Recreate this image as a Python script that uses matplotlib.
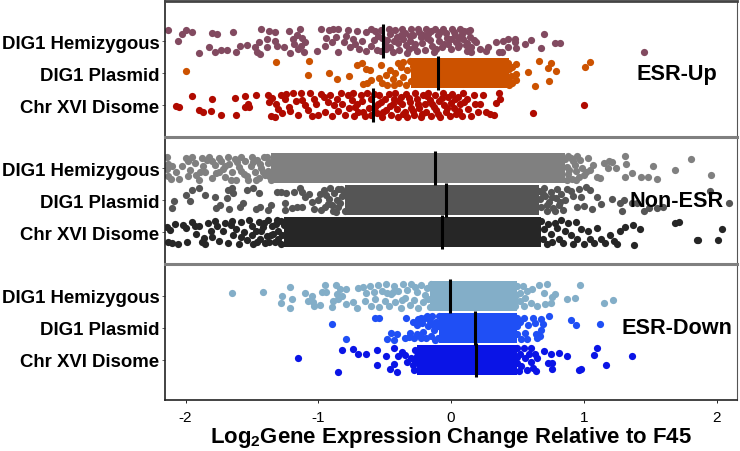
import matplotlib
matplotlib.use('Agg')
import matplotlib.pyplot as plt

plt.rcParams['font.family'] = ['Liberation Sans', 'DejaVu Sans']
plt.rcParams['mathtext.default'] = 'regular'

row_labels = ['DIG1 Hemizygous', 'DIG1 Plasmid', 'Chr XVI Disome']
panel_names = ['ESR-Up', 'Non-ESR', 'ESR-Down']

# each point is (log2 change, jitter within the row)
up_hemi = [(-2.13,.35),(-2.06,0),(-2.03,.22),(-2.0,.33),(-1.95,.29),(-1.90,-.37),(-1.82,-.19),(-1.80,.25),(-1.76,.21),
    (-1.78,-.33),(-1.73,-.27),(-1.69,-.27),(-1.64,.27),(-1.62,-.33),(-1.59,-.17),(-1.54,-.12),(-1.48,-.2),(-1.46,-.33),
    (-1.44,-.4),(-1.45,-.02),(-1.39,.06),(-1.43,.39),(-1.37,.3),(-1.33,.27),(-1.33,.01),(-1.39,-.2),(-1.31,-.15),(-1.26,-.18),
    (-1.22,.32),(-1.21,-.37),(-1.19,.06),(-1.18,-.09),(-1.14,.37),(-1.12,.11),(-1.10,-.04),(-1.15,-.25),(-1.11,-.35),(-1.16,.2),
    (-1.13,-.15),(-1.01,-.32),(-.98,.39),(-.92,.35),(-.89,.37),(-.94,.11),(-.9,-.04),(-.95,-.15),(-.85,.37),(-.85,-.35),(-.81,-.04),
    (-.79,.17),(-.76,-.2),(-.71,.32),(-.74,.06),(-.69,-.25),(-.64,.27),(-.67,.01),(-.64,-.3),(-.87,.12),(-.78,.35),(-.72,-.1),
    (-.6,.38),(-.57,.3),(-.55,.15),(-.58,.02),(-.6,-.15),(-.56,-.28),(-.53,.36),(-.52,.1),(-.5,-.1),(-.53,-.3),(-.47,.38),(-.46,.22),
    (-.48,.03),(-.46,-.2),(-.44,-.33),(-.42,.33),(-.41,.12),(-.4,-.05),(-.39,-.27),(-.37,.39),(-.35,.25),(-.36,.05),(-.34,-.12),(-.33,-.36),
    (-.3,.37),(-.29,.2),(-.31,0),(-.28,-.18),(-.26,-.3),(-.25,.38),(-.23,.12),(-.22,-.06),(-.2,-.27),(-.19,.37),(-.17,.23),(-.16,.04),
    (-.14,-.15),(-.13,-.33),(-.12,.38),(-.1,.2),(-.09,.0),(-.07,-.2),(-.06,.39),(-.04,.25),(-.03,.1),(-.02,-.08),(0,-.25),(.01,.37),
    (.03,.18),(.04,-.03),(.05,-.2),(.07,.38),(.08,.22),(.09,.06),(.11,-.12),(.12,-.3),(.13,.3),(.14,.12),(.15,-.2),(.12,-.06),
    (.19,-.04),(.22,-.25),(.26,-.3),(.28,-.2),(.34,-.04),(.36,-.35),(.38,-.33),(.39,.01),(.43,.06),(.43,-.2),(.48,.06),(.48,-.04),
    (.49,-.23),(.56,-.09),(.6,.04),(.7,.22),(.68,-.22),(.78,-.06),(.82,-.06),(1.45,-.35),(.17,.02),(.15,-.34),(.14,.36),
    (-.38,.18),(-.31,.15),(-.27,-.08),(-.24,.28),(-.18,.1),(-.11,-.25),(-.08,.28),(-.05,-.1),(.0,.05),(.02,.28),(.06,.1),(.1,.32),
    (-.43,.0),(-.49,-.25),(-.32,-.25),(-.15,.3),(-.21,.18),(.06,-.12)]
up_plas = [(-2.0,.08),(-1.32,.35),(-1.07,.39),(-1.08,-.07),(-.92,.01),(-.86,-.17),(-.77,-.1),(-.71,.26),(-.67,.31),(-.64,.12),
    (-.66,-.34),(-.63,-.32),(-.6,-.21),(-.61,.1),(-.53,.26),(-.54,-.15),(-.52,-.3),(-.49,-.05),(-.48,-.36),(-.46,.1),(-.44,-.2),
    (-.43,-.38),(-.42,.0),(-.4,.33),(-.39,-.3),(-.38,.2),(-.36,.36),(-.36,-.12),(-.34,-.37),(-.33,.1),(-.31,.38),(-.3,-.25),(-.29,.22),
    (.43,.3),(.44,.12),(.45,-.1),(.46,.2),(.43,-.22),(.46,-.3),(.44,-.36),
    (.49,.28),(.49,-.03),(.49,-.22),(.58,.02),(.63,-.4),(.66,.39),(.75,.31),(.73,.15),(.79,.08),(.74,-.25),(1.05,.36),(1.01,.19)]
up_dis = [(-2.05,-.05),(-2.07,-.04),(-1.95,.27),(-1.9,-.16),(-1.87,-.21),(-1.81,-.17),(-1.8,.19),(-1.73,-.3),(-1.63,.22),(-1.62,-.3),
    (-1.55,.29),(-1.55,-.07),(-1.53,.03),(-1.52,-.07),(-1.47,.31),(-1.38,.3),(-1.37,.1),(-1.36,-.35),(-1.35,.22),(-1.33,-.36),(-1.32,.05),
    (-1.3,-.12),(-1.28,.3),(-1.27,-.25),(-1.25,.18),(-1.24,.36),(-1.22,-.05),(-1.21,-.18),(-1.19,.38),(-1.17,.12),(-1.15,-.3),(-1.13,.38),
    (-1.12,.15),(-1.1,.0),(-1.08,-.15),(-1.06,.37),(-1.05,-.33),(-1.03,.2),(-1.02,.05),(-1.0,-.3),(-.98,.36),(-.96,.25),(-.95,-.2),(-.93,.1),
    (-.91,.33),(-.9,-.33),(-.88,.0),(-.86,.2),(-.85,-.18),(-.83,.37),(-.82,.05),(-.8,-.32),(-.78,.3),(-.77,-.1),(-.75,.15),(-.74,.37),(-.73,-.33),
    (-.71,.05),(-.7,-.2),(-.68,.3),(-.67,.12),(-.65,-.33),(-.63,.38),(-.62,-.1),(-.6,.18),(-.6,-.3),(-.58,.36),(-.57,-.05),(-.56,-.25),(-.54,.3),
    (-.53,.1),(-.52,-.36),(-.5,.2),(-.49,-.15),(-.47,.34),(-.46,-.02),(-.45,-.3),(-.43,.18),(-.42,.38),(-.41,-.12),(-.4,-.38),(-.38,.25),(-.37,.02),
    (-.35,-.2),(-.34,.36),(-.33,-.36),(-.31,.1),(-.3,-.08),(-.28,-.3),(-.27,.37),(-.26,.2),(-.24,-.1),(-.23,-.36),(-.21,.3),(-.2,.05),(-.19,-.22),
    (-.17,.38),(-.16,.15),(-.15,-.35),(-.13,-.05),(-.12,.3),(-.1,-.28),(-.09,.12),(-.08,-.38),(-.06,.38),(-.05,.0),(-.04,-.2),(-.02,.26),(-.01,-.34),
    (.0,.08),(.01,.36),(.02,-.1),(.04,-.28),(.05,.25),(.07,.02),(.08,-.35),(.09,.38),(.12,.2),(.13,-.12),(.15,-.34),(.17,.3),(.18,.05),(.2,-.2),
    (.22,.03),(.26,-.21),(.29,-.28),(.32,-.32),(.24,.3),(.36,.37),(.37,.19),(.34,.08),(.62,-.25),(1.0,0),
    (-.72,-.05),(-.66,-.2),(-.55,.05),(-.51,-.22),(-.44,.05),(-.39,.12),(-.36,-.28),(-.32,.22),(-.29,-.18),(-.25,.05),(-.22,-.28),(-.18,.28),
    (-.14,.05),(-.11,-.15),(-.07,.22),(-.03,-.1),(.03,.18),(.06,-.18),(.1,.1)]

non_hemi = [(-2.14,.36),(-2.13,.15),(-2.14,-.02),(-2.13,-.25),(-2.11,-.34),(-2.1,.08),(-2.07,-.1),(-2.05,-.33),(-2.03,.08),(-2.0,.32),(-1.98,.22),
    (-1.97,-.05),(-1.95,.36),(-1.93,.18),(-1.92,-.22),(-1.9,-.35),(-1.88,.32),(-1.87,.08),(-1.85,-.12),(-1.84,.25),(-1.82,.36),(-1.8,-.3),(-1.78,.1),
    (-1.77,-.15),(-1.75,.34),(-1.73,.22),(-1.72,-.02),(-1.7,-.28),(-1.68,.37),(-1.67,.15),(-1.65,-.12),(-1.63,.3),(-1.62,-.35),(-1.6,.05),(-1.58,.36),
    (-1.56,-.18),(-1.55,.22),(-1.53,-.36),(-1.51,.08),(-1.5,.37),(-1.48,-.1),(-1.46,.25),(-1.45,-.3),(-1.43,.02),(-1.41,.36),(-1.4,-.2),(-1.38,.18),(-1.36,-.35),
    (-1.98,-.25),(-1.89,-.1),(-1.8,.22),(-1.75,-.1),(-1.7,.08),(-1.66,-.35),(-1.61,.2),(-1.58,-.08),(-1.54,-.25),(-1.49,.2),(-1.47,-.36),(-1.44,.15),
    (-1.42,-.12),(-1.39,.36),(-1.38,-.08),(-1.36,.2),(-1.37,-.25),
    (.86,.3),(.87,.05),(.88,-.18),(.9,.32),(.91,-.32),(.93,.12),(.94,-.08),(.97,.26),(.96,-.26),(.99,.02),(1.0,-.21),(1.03,.31),(1.07,.1),(1.05,-.05),(1.02,-.12),
    (1.1,-.26),(1.12,-.31),(1.15,.16),(1.19,.24),(1.21,.2),(1.24,.02),(1.18,.02),(1.31,.39),(1.32,.14),(1.52,.07),(1.69,-.05),(1.81,.29),(1.96,-.21),(1.36,-.16),
    (1.31,-.26),(1.43,-.26),(1.48,-.26),(1.55,-.33),(.89,-.05),(.92,.22),(.94,-.36),(.87,-.36),(.88,.38),(.95,.38)]
non_plas = [(-2.09,-.02),(-2.1,-.25),(-2.0,.15),(-1.97,-.02),(-1.95,.32),(-1.9,.38),(-1.85,.17),(-1.78,.11),(-1.74,-.15),(-1.77,-.23),(-1.69,.06),(-1.68,.32),
    (-1.65,.38),(-1.64,.22),(-1.67,-.27),(-1.59,-.2),(-1.57,-.1),(-1.54,.31),(-1.49,.38),(-1.45,.22),(-1.47,-.28),(-1.44,-.2),(-1.38,-.3),(-1.36,-.15),(-1.31,.27),
    (-1.28,.25),(-1.24,.22),(-1.18,.27),(-1.14,.38),(-1.25,-.09),(-1.25,-.3),(-1.2,-.25),(-1.16,-.2),(-1.12,-.2),(-1.1,.1),(-1.12,.25),(-1.07,.2),(-1.05,-.05),
    (-1.03,-.28),(-1.0,.0),(-.98,-.3),(-.96,.32),(-.94,.15),(-.93,-.12),(-.91,.38),(-.89,-.35),(-.88,.22),(-.86,.02),(-.85,-.22),(-.83,.35),(-.82,.12),(-.8,-.33),
    (-.99,.2),(-.95,-.22),(-.92,.05),(-.9,-.15),(-.87,-.36),(-.85,.36),(-.84,-.08),(-.81,.25),
    (.66,.3),(.67,.05),(.68,-.2),(.7,.38),(.71,.12),(.72,-.34),(.74,-.05),(.75,.26),(.77,-.25),(.79,.08),(.8,.34),(.81,-.14),(.83,.2),(.84,-.3),(.86,.02),(.87,.35),
    (.9,.3),(.92,.12),(.95,-.2),(.96,.36),(.98,.1),(1.0,-.17),(1.02,.43),(1.05,.32),(1.06,-.28),(1.1,.11),(1.13,-.13),(1.21,.03),(1.27,-.09),(1.29,-.33),(1.3,.02),
    (1.36,-.09),(1.4,-.1),(1.45,-.33),(1.49,-.25),(1.55,-.25),(1.6,-.2),(1.95,.3),(2.09,-.09),(.69,.2),(.72,-.15),(.76,.1),(.78,-.35),(.82,-.05)]
non_dis = [(-2.14,.15),(-2.13,-.3),(-2.12,.08),(-2.1,-.33),(-2.08,.25),(-2.06,-.36),(-2.02,.22),(-2.0,.12),(-1.99,-.32),(-1.95,.32),(-1.93,.2),(-1.92,-.05),
    (-1.9,.18),(-1.88,-.32),(-1.86,-.18),(-1.85,-.36),(-1.83,.28),(-1.81,.05),(-1.8,-.15),(-1.78,.35),(-1.76,.2),(-1.75,-.28),(-1.72,.03),(-1.7,.3),(-1.68,-.33),
    (-1.66,.22),(-1.64,-.1),(-1.62,.1),(-1.6,-.36),(-1.58,.33),(-1.56,.0),(-1.54,-.25),(-1.52,.38),(-1.5,.18),(-1.49,-.36),(-1.47,.05),(-1.45,.33),(-1.44,-.2),
    (-1.42,.15),(-1.4,-.33),(-1.38,.37),(-1.36,-.08),(-1.35,.2),(-1.33,-.3),(-1.31,.38),(-1.3,.05),(-1.28,-.38),(-1.26,.22),
    (-1.65,.35),(-1.58,-.15),(-1.5,-.1),(-1.46,-.32),(-1.43,.02),(-1.41,.28),(-1.39,-.12),(-1.37,-.3),(-1.34,-.05),(-1.32,.25),(-1.3,-.2),(-1.28,.35),(-1.27,-.1),
    (.68,.35),(.69,-.2),(.7,.1),(.72,-.36),(.73,.25),(.75,-.05),(.76,-.3),(.78,.3),(.8,.14),(.81,-.2),(.83,.38),(.84,-.35),(.86,.05),(.88,.3),(.9,-.1),(.92,-.38),
    (.94,.32),(.95,-.2),(.98,.1),(1.0,-.36),(1.03,.05),(1.05,-.22),(1.08,-.34),(1.1,.12),(1.13,-.2),(1.16,-.33),(1.2,-.1),(1.23,-.28),(1.25,-.36),(1.31,.15),(1.27,.04),
    (1.37,.23),(1.42,.11),(1.38,-.4),(1.69,.28),(1.72,.32),(1.85,-.25),(1.86,-.25),(2.01,-.24),(2.04,.09)]

down_hemi = [(-1.65,.08),(-1.42,.11),(-1.21,.29),(-1.27,-.01),(-1.2,-.09),(-1.28,-.22),(-1.21,-.38),(-1.1,.1),(-1.05,0),(-1.08,-.16),(-1.04,-.2),(-1.03,-.31),
    (-.99,-.29),(-.97,.12),(-.95,.33),(-.94,.12),(-.87,.34),(-.84,.21),(-.79,.21),(-.86,.05),(-.82,0),(-.89,-.16),(-.85,-.1),(-.9,-.34),(-.79,-.26),(-.74,-.2),
    (-.71,-.39),(-.7,.26),(-.66,.28),(-.64,.1),(-.65,-.16),(-.61,.3),(-.6,-.3),(-.58,.12),(-.57,-.1),(-.55,.33),(-.54,-.34),(-.52,.15),(-.5,-.15),(-.49,.36),
    (-.47,-.3),(-.45,.05),(-.43,.3),(-.42,-.2),(-.4,.15),(-.38,-.36),(-.36,.36),(-.35,-.05),(-.33,.2),(-.31,-.28),(-.3,.36),(-.28,-.12),(-.26,.12),(-.25,-.36),(-.23,.33),
    (-.21,-.2),(-.2,.03),(-.18,.24),(-.16,-.35),(-.15,.36),(-.44,.14),(-.37,-.12),(-.48,.1),(-.27,.28),(-.17,-.08),
    (.5,.3),(.49,.02),(.48,-.3),(.49,-.15),
    (.54,.31),(.61,.21),(.66,.34),(.72,.39),(.7,.1),(.78,.05),(.76,-.03),(.75,-.21),(.71,-.26),(.65,-.31),(.6,-.21),(.97,.33),(.93,-.05),(.87,-.1),(1.15,-.21),
    (1.22,-.11),(.56,-.05),(.52,-.16),(.57,.16),(.52,.1),(.55,-.3)]
down_plas = [(-.9,.13),(-.79,-.34),(-.57,.32),(-.54,.32),(-.34,.3),(-.48,-.35),(-.45,-.15),(-.41,-.2),(-.43,-.36),(-.35,-.3),(-.31,-.15),(-.32,-.28),(-.29,.2),
    (-.28,-.3),(-.26,.08),(-.26,-.2),(-.25,.28),(-.23,-.3),(-.22,.15),(-.21,-.12),(-.2,.32),(-.19,-.3),(-.17,.05),(-.16,.22),(-.15,-.25),(-.14,.36),(-.13,-.05),
    (-.11,.2),(-.1,-.3),(-.09,.36),(-.23,.32),(-.18,.36),(-.12,-.36),(-.14,.12),(-.1,.05),(.5,.3),(.5,.05),(.5,-.2),(.52,.18),(.53,-.35),(.55,.3),(.56,-.15),(.57,-.35),(.58,.1),(.62,.32),(.63,.15),(.64,-.2),(.65,-.3),
    (.68,.27),(.69,.12),(.68,-.05),(.67,-.25),(.74,.37),(.9,.25),(.94,.1),(1.12,.11)]
down_dis = [(-1.15,.05),(-.85,-.38),(-.82,.31),(-.74,.35),(-.7,.19),(-.64,.2),(-.56,.31),(-.49,.13),(-.56,-.15),(-.43,.36),(-.46,-.29),(-.43,-.12),(-.41,-.36),(-.4,.13),
    (-.37,.25),(-.35,.15),(-.33,-.05),(-.3,.05),(-.29,-.15),(-.28,-.3),(-.27,.31),(-.26,.12),(-.27,-.02),(.5,.36),(.5,.1),(.5,-.1),(.51,-.34),(.52,.2),(.53,-.2),(.55,.36),
    (.56,.05),(.57,-.3),(.59,.2),(.6,.36),(.6,-.05),(.62,-.25),(.63,.2),(.64,-.33),(.65,.05),(.7,.28),(.75,.2),(.81,.21),(.87,.13),(1.08,.16),(1.1,.36),(1.36,.11),
    (1.17,-.15),(.96,-.31),(.98,-.29),(.76,-.08),(.73,-.1),(.76,-.29)]

# solid overplotted stretch of each dense row: (start, end)
up_plas_core = (-.3, .44)
non_hemi_core = (-1.36, .86)
non_plas_core = (-.8, .66)
non_dis_core = (-1.26, .68)
down_hemi_core = (-.16, .5)
down_plas_core = (-.09, .5)
down_dis_core = (-.26, .5)

up_medians = [-.51, -.095, -.585]
non_medians = [-.12, -.04, -.07]
down_medians = [-.01, .18, .19]

up_colors = ['#824A60', '#CC5200', '#B00A00']
non_colors = ['#808080', '#555555', '#262626']
down_colors = ['#83AEC8', '#1F4FF5', '#0A14E6']

panels = [
    ([up_hemi, up_plas, up_dis], [None, up_plas_core, None], up_medians, up_colors, (0.02, 4.25)),
    ([non_hemi, non_plas, non_dis], [non_hemi_core, non_plas_core, non_dis_core], non_medians, non_colors, (0, 4)),
    ([down_hemi, down_plas, down_dis], [down_hemi_core, down_plas_core, down_dis_core], down_medians, down_colors, (-.25, 4)),
]

fig = plt.figure(figsize=(7.4, 4.52), dpi=100)
tops = [2, 137.5, 265]
bottoms = [137.5, 265, 401]
rows = [3, 2, 1]

for i, (series, cores, meds, cols, ylim) in enumerate(panels):
    ax = fig.add_axes([165 / 740, 1 - bottoms[i] / 452, 572 / 740, (bottoms[i] - tops[i]) / 452])
    for row, pts, core, med, c in zip(rows, series, cores, meds, cols):
        if core:
            ax.barh(row, core[1] - core[0], left=core[0], height=.94, color=c, zorder=2)
        xs = [p[0] for p in pts]
        ys = [row + p[1] for p in pts]
        ax.scatter(xs, ys, s=27, color=c, linewidths=0, zorder=2)
        ax.plot([med, med], [row - .53, row + .53], color='black', lw=2.2, zorder=3, solid_capstyle='butt')
    ax.set_xlim(-2.155, 2.154)
    ax.set_ylim(*ylim)
    ax.set_yticks(rows)
    ax.set_yticklabels(row_labels, fontsize=13.4, fontweight='bold')
    ax.tick_params(axis='y', length=2, width=.6, pad=2, color='#444444')
    ax.text(1.70, 2, panel_names[i], fontsize=15.6, fontweight='bold', ha='center', va='center', zorder=4)
    ax.set_xticks([-2, -1, 0, 1, 2])
    ax.spines['left'].set_linewidth(1.2)
    ax.spines['left'].set_color('#222222')
    ax.spines['right'].set_linewidth(.8)
    ax.spines['right'].set_color('#555555')
    ax.spines['top'].set_linewidth(2 if i == 0 else 2.2)
    ax.spines['top'].set_color('#444444' if i == 0 else '#808080')
    ax.spines['bottom'].set_visible(i == 2)
    ax.spines['bottom'].set_linewidth(1.2)
    ax.spines['bottom'].set_color('#222222')
    if i < 2:
        ax.tick_params(axis='x', length=0, labelbottom=False)
    else:
        ax.tick_params(axis='x', length=2, width=.6, labelsize=11, pad=5)
        ax.set_xticklabels(['-2', '-1', '0', '1', '2'])
        ax.set_xlabel('Log$_2$Gene Expression Change Relative to F45', fontsize=15.9, fontweight='bold', labelpad=0)

fig.savefig('out.png', dpi=100)
